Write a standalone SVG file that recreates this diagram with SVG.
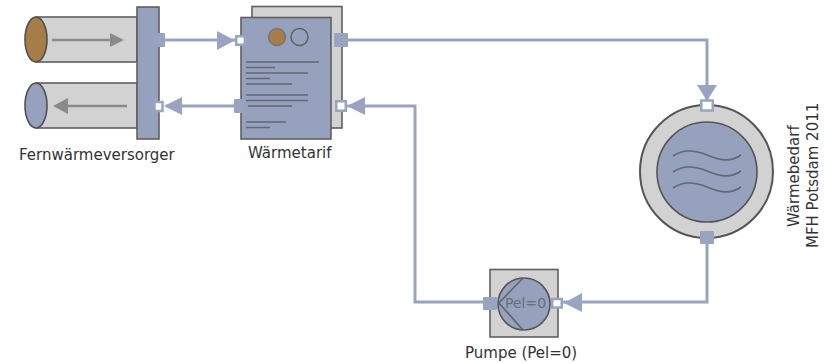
<svg xmlns="http://www.w3.org/2000/svg" width="827" height="363" viewBox="0 0 827 363">
<defs>
<style>
.o{stroke:#606060;stroke-width:1.6}
.g{fill:#d2d2d2}
.b{fill:#95a1bd}
.c{fill:none;stroke:#98a4c0;stroke-width:3}
.a{fill:#98a4c0}
.pf{fill:#98a4c0}
.po{fill:#fff;stroke:#98a4c0;stroke-width:2.5}
.l{stroke:#636772;stroke-width:1.7;fill:none}
.t{font-family:"DejaVu Sans",Verdana,sans-serif;font-size:15px;fill:#333}
.ar{stroke:#8a8a8a;stroke-width:2.6;fill:none}
.ah{fill:#8a8a8a}
</style>
</defs>
<rect width="827" height="363" fill="#fff"/>
<g id="connectors">
<path class="c" d="M163 40H236"/>
<path class="a" d="M217 31L235 40.500L217 50Z"/>
<path class="c" d="M238 106H166"/>
<path class="a" d="M182 97L164 106L182 115Z"/>
<path class="c" d="M344 40H707V100"/>
<path class="a" d="M697 85H717L707 101Z"/>
<path class="c" d="M344 106H415V302H490"/>
<path class="a" d="M365 97L347 106L365 115Z"/>
<path class="c" d="M707 240V302H560"/>
<path class="a" d="M582 293L564 303L582 312Z"/>
</g>
<g id="fernwaermeversorger">
<rect class="g o" x="36" y="17" width="101" height="45"/>
<ellipse cx="36" cy="39.500" rx="11" ry="22.500" fill="#a67c48" stroke="#505050" stroke-width="1.600"/>
<path class="ar" d="M52 40H112"/><path class="ah" d="M110 33L124 40L110 47Z"/>
<rect class="g o" x="36" y="83" width="101" height="45"/>
<ellipse cx="36" cy="105.500" rx="11" ry="22.500" fill="#95a1bd" stroke="#505050" stroke-width="1.600"/>
<path class="ar" d="M127 106H66"/><path class="ah" d="M68 98L53 106L68 114Z"/>
<rect class="b o" x="137" y="7" width="22" height="132"/>
<rect class="pf" x="158" y="33" width="7" height="14" rx="1"/>
<rect class="po" x="154.500" y="102" width="8" height="9"/>
<text class="t" x="19" y="160">Fernwärmeversorger</text>
</g>
<g id="waermetarif">
<rect class="g o" x="252" y="6.500" width="90" height="121.500"/>
<rect class="b o" x="241" y="17.500" width="90" height="121.500"/>
<circle cx="277" cy="37" r="8.500" fill="#a67c48" stroke="#777" stroke-width="1.500"/>
<circle cx="299.500" cy="37" r="8.500" fill="#95a1bd" stroke="#606060" stroke-width="1.500"/>
<path class="l" d="M246 62H319M246 67.500H275M246 73H308M246 78.500H270M246 84H292M246 95H308M246 100.500H308M248 106H292M246 122H286M246 127.500H270"/>
<rect class="po" x="236.250" y="36.250" width="8.500" height="8.500"/>
<rect class="pf" x="234" y="99" width="11" height="14" rx="1"/>
<rect class="pf" x="334" y="33" width="14" height="14" rx="1"/>
<rect class="po" x="336.250" y="101.250" width="9.500" height="9.500"/>
<text class="t" x="248" y="158">Wärmetarif</text>
</g>
<g id="waermebedarf">
<circle cx="706.500" cy="171.500" r="66.500" class="g" stroke="#555" stroke-width="2"/>
<circle cx="707" cy="172" r="50" class="b" stroke="#555" stroke-width="1.600"/>
<path class="l" d="M673 156C683 149 695 150 707 155S730 163 741 155M673 172C683 165 695 166 707 171S730 179 741 171M673 188C683 181 695 182 707 187S730 195 741 187"/>
<rect class="po" x="701.250" y="100.500" width="11.500" height="10"/>
<rect class="pf" x="700" y="231" width="14" height="13" rx="1"/>
<text class="t" transform="translate(799 227) rotate(-90)">Wärmebedarf</text>
<text class="t" transform="translate(818 248) rotate(-90)">MFH Potsdam 2011</text>
</g>
<g id="pumpe">
<rect class="g o" x="490" y="269.500" width="68" height="67.500"/>
<circle cx="524" cy="304" r="26" class="b" stroke="#555" stroke-width="1.600"/>
<path class="l" d="M523 278L499 303L523 330"/>
<text x="505" y="308" font-family="'DejaVu Sans',Verdana,sans-serif" font-size="14" fill="#6a6e78">Pel=0</text>
<rect class="pf" x="483" y="297" width="14" height="13" rx="1"/>
<rect class="po" x="552.250" y="299" width="9.500" height="8.500"/>
<text class="t" x="465" y="358">Pumpe (Pel=0)</text>
</g>
</svg>
